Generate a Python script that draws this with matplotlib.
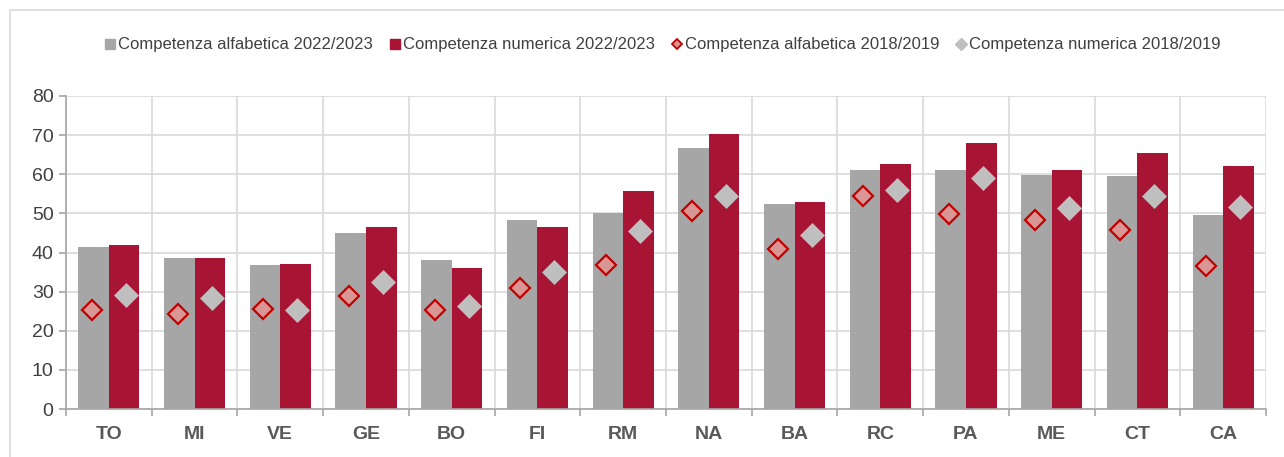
import numpy as np
import matplotlib
matplotlib.use('Agg')
import matplotlib.pyplot as plt
from matplotlib.lines import Line2D
from matplotlib.patches import Rectangle

cities = ['TO', 'MI', 'VE', 'GE', 'BO', 'FI', 'RM', 'NA', 'BA', 'RC', 'PA', 'ME', 'CT', 'CA']
alfa_2223 = [41.3, 38.5, 36.8, 44.9, 38.2, 48.3, 50.1, 66.8, 52.3, 61.2, 61.0, 59.8, 59.6, 49.6]
num_2223 = [42.0, 38.6, 37.0, 46.6, 36.0, 46.5, 55.6, 70.2, 52.9, 62.6, 68.1, 61.0, 65.4, 62.0]
alfa_1819 = [25.4, 24.3, 25.5, 29.0, 25.2, 30.9, 36.8, 50.5, 40.9, 54.4, 49.9, 48.2, 45.7, 36.6]
num_1819 = [29.2, 28.3, 25.4, 32.4, 26.2, 35.0, 45.5, 54.5, 44.6, 56.1, 59.1, 51.3, 54.5, 51.6]

labels = ['Competenza alfabetica 2022/2023', 'Competenza numerica 2022/2023',
          'Competenza alfabetica 2018/2019', 'Competenza numerica 2018/2019']

gray_bar = '#A6A6A6'
red_bar = '#A71434'
txt = '#404040'

plt.rcParams['font.family'] = ['Liberation Sans', 'DejaVu Sans']

fig = plt.figure(figsize=(12.84, 4.57), dpi=100)
# outer frame of the chart
fig.patches.append(Rectangle((10 / 1284, -0.2), 1.2, 1 - 10 / 457 + 0.2,
                             transform=fig.transFigure, fill=False,
                             edgecolor='#D9D9D9', linewidth=1.2))

ax = fig.add_axes([66 / 1284, 48 / 457, 1200 / 1284, 313 / 457])

x = np.arange(len(cities))
w = 0.356
ax.bar(x - w / 2, alfa_2223, w, color=gray_bar, zorder=2, label=labels[0])
ax.bar(x + w / 2, num_2223, w, color=red_bar, zorder=2, label=labels[1])
ax.plot(x - w / 2 - 0.02, alfa_1819, linestyle='none', marker='D', markersize=10.5,
        markerfacecolor='#D99694', markeredgecolor='#C00000', markeredgewidth=1.6,
        zorder=3, label=labels[2])
ax.plot(x + w / 2 + 0.02, num_1819, linestyle='none', marker='D', markersize=12,
        markerfacecolor='#BFBFBF', markeredgecolor='#BFBFBF', markeredgewidth=0.5,
        zorder=3, label=labels[3])

ax.set_xlim(-0.5, len(cities) - 0.5)
ax.set_ylim(0, 80)
ax.set_yticks(range(0, 81, 10))
ax.set_xticks(x)
ax.set_xticklabels(cities, fontsize=14, fontweight='bold', color='#595959')
ax.set_xticks(np.arange(-0.5, len(cities), 1), minor=True)
ax.tick_params(axis='x', which='major', length=0, pad=12)
ax.tick_params(axis='x', which='minor', length=5, color='#A6A6A6', width=1.2)
ax.tick_params(axis='y', length=5, color='#A6A6A6', width=1.2, labelsize=14, labelcolor=txt, pad=4)

ax.grid(axis='y', color='#D9D9D9', linewidth=1.2, zorder=0)
ax.grid(axis='x', which='minor', color='#D9D9D9', linewidth=1.2, zorder=0)
for s in ['top', 'right']:
    ax.spines[s].set_visible(False)
ax.spines['left'].set_color('#A6A6A6')
ax.spines['bottom'].set_color('#A6A6A6')
ax.spines['left'].set_linewidth(1.2)
ax.spines['bottom'].set_linewidth(1.2)

handles = [
    Line2D([], [], linestyle='none', marker='s', markersize=7.5, color=gray_bar),
    Line2D([], [], linestyle='none', marker='s', markersize=7.5, color=red_bar),
    Line2D([], [], linestyle='none', marker='D', markersize=5.5, markerfacecolor='#D99694',
           markeredgecolor='#C00000', markeredgewidth=1.3),
    Line2D([], [], linestyle='none', marker='D', markersize=6.5, color='#BFBFBF'),
]
fig.legend(handles, labels, loc='center', bbox_to_anchor=(663 / 1284, 1 - 45 / 457),
           ncol=4, frameon=False, fontsize=12, handlelength=0.6, handletextpad=0.2,
           columnspacing=1.0, labelcolor=txt)

fig.savefig('out.png', dpi=100)
